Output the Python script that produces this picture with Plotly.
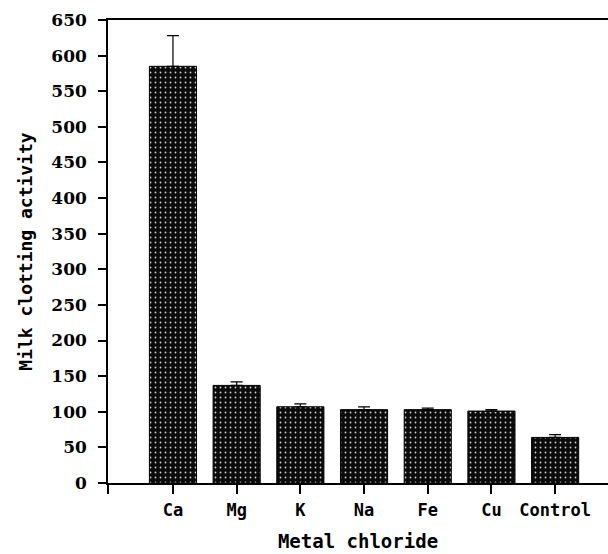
import plotly.graph_objects as go

# Milk clotting activity by metal chloride
categories = ["Ca", "Mg", "K", "Na", "Fe", "Cu", "Control"]
activity = [585, 137, 107, 103, 103, 101, 64]
error_up = [43, 5, 4, 4, 2, 2, 4]
y_ticks = list(range(0, 651, 50))

positions = list(range(len(categories)))
x_left, x_right = -1.02, 6.83

mono = "DejaVu Sans Mono"
serif = "DejaVu Serif"

fig = go.Figure()
fig.add_trace(go.Bar(
    x=positions,
    y=activity,
    width=0.74,
    marker=dict(
        color="#0b0b0b",
        line=dict(color="black", width=1),
        pattern=dict(shape=".", fgcolor="#d0d0d0", bgcolor="#0b0b0b",
                     size=5, solidity=0.1, fillmode="replace"),
    ),
    error_y=dict(type="data", array=error_up, arrayminus=[0] * len(error_up),
                 symmetric=False, color="black", thickness=1.2, width=6),
    showlegend=False,
))

fig.update_layout(
    width=608, height=554,
    margin=dict(l=108, r=0, t=20, b=71),
    paper_bgcolor="white", plot_bgcolor="white",
    font=dict(family=mono, size=15, color="black"),
    xaxis=dict(
        range=[x_left, x_right],
        tickvals=[x_left] + positions,
        ticktext=[""] + [f"<b>{c}</b>" for c in categories],
        ticks="outside", ticklen=9, tickwidth=1.5, tickcolor="black",
        showline=True, linecolor="black", linewidth=1.5, mirror=True,
        showgrid=False, zeroline=False,
        ticklabelstandoff=2,
        tickfont=dict(family=mono, size=17),
        title=dict(text="<b>Metal chloride</b>", standoff=16,
                   font=dict(family=mono, size=19)),
    ),
    yaxis=dict(
        range=[0, 650],
        tickvals=y_ticks,
        ticktext=[f"<b>{v}</b>" for v in y_ticks],
        ticks="outside", ticklen=8, tickwidth=1.5, tickcolor="black",
        showline=True, linecolor="black", linewidth=1.5,
        showgrid=False, zeroline=False,
        ticklabelstandoff=8,
        tickfont=dict(family=serif, size=17),
        title=dict(text="<b>Milk clotting activity</b>", standoff=14,
                   font=dict(family=mono, size=18)),
    ),
)

fig.write_html("out.html")
